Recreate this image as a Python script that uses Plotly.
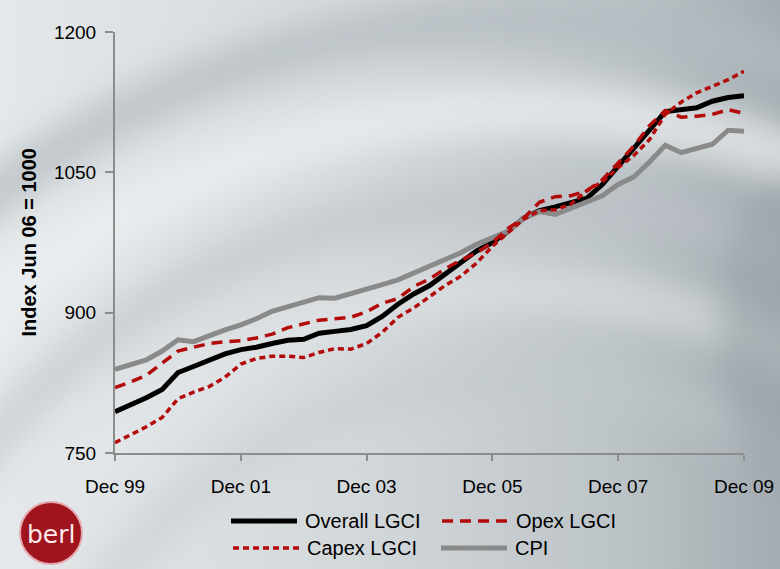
import base64
import pandas as pd
import plotly.graph_objects as go

# Quarterly index values, Dec 1999 to Dec 2009 (Jun 06 = 1000)
quarters = pd.date_range("1999-12-31", "2009-12-31", freq="QE-DEC")

overall_lgci = [794, 801, 809, 818, 836, 842.5, 849, 856, 860.5, 863, 867,
                870.5, 871.5, 878, 880, 882, 886, 896, 909, 920, 929, 941,
                954, 966, 975, 987, 1001, 1009, 1013, 1017, 1022, 1037,
                1056, 1075, 1095, 1115, 1116.5, 1119, 1126, 1130, 1132]
opex_lgci = [820, 826, 833, 846, 859, 863, 867, 869, 870, 873, 877, 884,
             888.5, 892, 893.5, 895, 901, 910, 915, 928, 936, 947, 956,
             964, 975, 990, 1001, 1018, 1024, 1025, 1030, 1042, 1060,
             1078, 1100, 1116, 1109, 1110, 1112, 1117, 1113]
capex_lgci = [761, 769, 778, 788, 808, 815, 821, 831, 845, 851, 853.5,
              853.5, 852, 857.5, 861.5, 861, 867, 879, 895, 905, 917, 929,
              939, 953, 971, 986, 1000, 1009, 1010, 1016, 1030, 1040, 1055,
              1068, 1085, 1112, 1125, 1135, 1142, 1149, 1158]
cpi = [839.5, 845, 849.5, 859, 871, 869, 875.5, 881.5, 887, 893.5, 901.5,
       906.5, 911.5, 916, 915.5, 920, 925, 930, 935, 942, 949, 956, 964,
       973, 980, 987, 1001, 1008, 1005, 1011.5, 1018.5, 1025, 1037, 1045,
       1061, 1079, 1071, 1075, 1080, 1095, 1094]

tick_dates = ["1999-12-31", "2001-12-31", "2003-12-31", "2005-12-31",
              "2007-12-31", "2009-12-31"]
tick_labels = ["Dec 99", "Dec 01", "Dec 03", "Dec 05", "Dec 07", "Dec 09"]
y_ticks = [750, 900, 1050, 1200]

legend_names = ["Overall LGCI", "Opex LGCI", "Capex LGCI", "CPI"]

RED = "#b30a0a"
GREY = "#8a8a8a"
AXIS = "#8c8c8c"
FONT = "Liberation Sans, Arial, sans-serif"

W, H = 780, 569
L, R, T, B = 115, 36, 32, 116
PW, PH = W - L - R, H - T - B


def px(x):
    return (x - L) / PW


def py(y):
    return (H - B - y) / PH


# Soft slide background: grey gradient with blurred concentric swirls
bg_svg = f"""<svg xmlns='http://www.w3.org/2000/svg' width='{W}' height='{H}' viewBox='0 0 {W} {H}'>
<defs>
<linearGradient id='g' x1='0' y1='0' x2='1' y2='0'>
<stop offset='0' stop-color='#e4e8ea'/>
<stop offset='0.45' stop-color='#d3d8db'/>
<stop offset='0.8' stop-color='#bcc3c7'/>
<stop offset='1' stop-color='#a4acb1'/>
</linearGradient>
<filter id='b' x='-20%' y='-20%' width='140%' height='140%'><feGaussianBlur stdDeviation='16'/></filter>
</defs>
<rect width='{W}' height='{H}' fill='url(#g)'/>
<g filter='url(#b)' fill='none'>
<circle cx='520' cy='900' r='880' stroke='#b4bbc0' stroke-width='45' opacity='0.75'/>
<circle cx='520' cy='900' r='790' stroke='#eef1f2' stroke-width='55' opacity='0.7'/>
<circle cx='520' cy='900' r='700' stroke='#b9c0c4' stroke-width='40' opacity='0.55'/>
<circle cx='520' cy='900' r='610' stroke='#e6e9eb' stroke-width='45' opacity='0.5'/>
<circle cx='520' cy='900' r='520' stroke='#c2c8cc' stroke-width='40' opacity='0.45'/>
<ellipse cx='790' cy='330' rx='70' ry='160' fill='#98a1a7' opacity='0.6'/>
</g>
</svg>"""
bg_uri = "data:image/svg+xml;base64," + base64.b64encode(bg_svg.encode()).decode()

fig = go.Figure()

fig.add_trace(go.Scatter(x=quarters, y=overall_lgci, mode="lines",
                         name=legend_names[0],
                         line=dict(color="black", width=5)))
fig.add_trace(go.Scatter(x=quarters, y=cpi, mode="lines",
                         name=legend_names[3],
                         line=dict(color=GREY, width=5)))
fig.add_trace(go.Scatter(x=quarters, y=opex_lgci, mode="lines",
                         name=legend_names[1],
                         line=dict(color=RED, width=3.5, dash="11px,7px")))
fig.add_trace(go.Scatter(x=quarters, y=capex_lgci, mode="lines",
                         name=legend_names[2],
                         line=dict(color=RED, width=3.5, dash="6px,4px")))

fig.update_traces(showlegend=False)

fig.update_xaxes(
    type="date",
    range=[quarters[0], quarters[-1]],
    tickvals=tick_dates, ticktext=tick_labels,
    showline=True, linecolor=AXIS, linewidth=2,
    ticks="outside", ticklen=6, tickwidth=2, tickcolor=AXIS,
    showgrid=False, zeroline=False, automargin=False,
    ticklabelstandoff=9,
    tickfont=dict(family=FONT, size=19, color="black"),
)
fig.update_yaxes(
    range=[750, 1200],
    tickvals=y_ticks,
    showline=True, linecolor=AXIS, linewidth=2,
    ticks="outside", ticklen=8, tickwidth=2, tickcolor=AXIS,
    showgrid=False, zeroline=False, automargin=False,
    ticklabelstandoff=5,
    tickfont=dict(family=FONT, size=19, color="black"),
)

shapes = []
annotations = []

# Hand-built two-column legend
legend_rows = [
    (legend_names[0], 231, 521, dict(color="black", width=5)),
    (legend_names[1], 442, 521, dict(color=RED, width=3.5, dash="11px,7px")),
    (legend_names[2], 233, 548, dict(color=RED, width=3.5, dash="6px,4px")),
    (legend_names[3], 441, 548, dict(color=GREY, width=5)),
]
for name, x0, y0, ln in legend_rows:
    shapes.append(dict(type="line", xref="paper", yref="paper",
                       x0=px(x0), x1=px(x0 + 66), y0=py(y0), y1=py(y0),
                       line=ln))
    annotations.append(dict(text=name, xref="paper", yref="paper",
                            x=px(x0 + 72), y=py(y0), xanchor="left",
                            yanchor="middle", showarrow=False,
                            font=dict(family=FONT, size=20, color="black")))

# Axis title
annotations.append(dict(text="<b>Index Jun 06 = 1000</b>", xref="paper",
                        yref="paper", x=px(28), y=0.5, textangle=-90,
                        showarrow=False, xanchor="center", yanchor="middle",
                        font=dict(family=FONT, size=20, color="black")))

# berl logo badge
cx, cy, r = 51, 533, 31
shapes.append(dict(type="circle", xref="paper", yref="paper",
                   x0=px(cx - r), x1=px(cx + r), y0=py(cy + r), y1=py(cy - r),
                   fillcolor="#a0141e", line=dict(color="#e7a9b0", width=2)))
annotations.append(dict(text="berl", xref="paper", yref="paper",
                        x=px(cx), y=py(cy + 1), showarrow=False,
                        xanchor="center", yanchor="middle",
                        font=dict(family="DejaVu Sans, sans-serif", size=25,
                                  color="#fbe9ec")))

fig.update_layout(
    width=W, height=H,
    margin=dict(l=L, r=R, t=T, b=B),
    paper_bgcolor="#d8dcdf",
    plot_bgcolor="rgba(0,0,0,0)",
    shapes=shapes,
    annotations=annotations,
    images=[dict(source=bg_uri, xref="paper", yref="paper",
                 x=-L / PW, y=1 + T / PH, sizex=W / PW, sizey=H / PH,
                 xanchor="left", yanchor="top", sizing="stretch",
                 layer="below")],
    showlegend=False,
)

fig.write_html("out.html")
